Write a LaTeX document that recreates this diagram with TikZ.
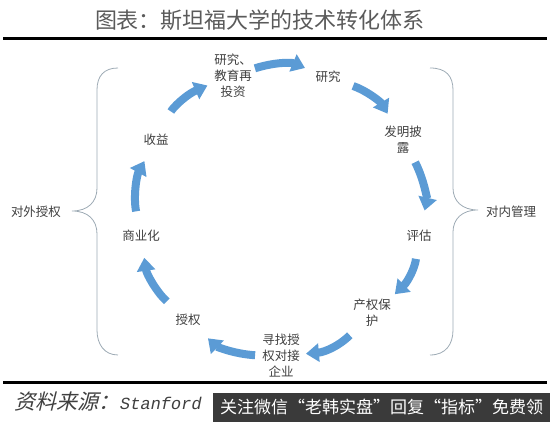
\documentclass[tikz,border=0pt]{standalone}
\usepackage{fontspec}
\usepackage{xcolor}
\usepackage{tikz}
\usetikzlibrary{arrows.meta}
\newfontfamily\cjk{Noto Sans CJK SC}
\newfontfamily\cjkslant[FakeSlant=0.25]{Noto Sans CJK SC}
\newfontfamily\srcmono[FakeSlant=0.2]{Liberation Mono}
\definecolor{flowblue}{HTML}{5B9BD5}
\definecolor{textgray}{HTML}{3F3F3F}
\definecolor{titlegray}{HTML}{5A5A5A}
\definecolor{bracegray}{HTML}{9DAAB4}
\definecolor{wmdark}{HTML}{3A3A3A}

\begin{document}
\begin{tikzpicture}[x=1pt, y=1pt,
  stage/.style={font=\cjk\fontsize{12.5}{16}\selectfont, text=textgray, align=center, inner sep=2pt},
  flow/.style={draw=flowblue, line width=8pt, -{Triangle[length=13pt, width=18pt]}, bend left=20},
  bracket/.style={draw=bracegray, line width=0.8pt},
  rule/.style={line width=3pt},
]
\useasboundingbox (0,0) rectangle (550,422);

% Title
\node[font=\cjk\fontsize{22}{24}\selectfont, text=titlegray] (title) at (260,402) {图表：斯坦福大学的技术转化体系};
\draw[rule] (3,383) -- (547,383);

% Stages round the circle
\node[stage] (reinv) at (233,346) {研究、\\教育再\\投资};
\node[stage] (res) at (328,345) {研究};
\node[stage] (disc) at (403,282) {发明披\\露};
\node[stage] (eval) at (419,186) {评估};
\node[stage] (prot) at (372,109) {产权保\\护};
\node[stage] (seek) at (281,66) {寻找授\\权对接\\企业};
\node[stage] (lic) at (188,102) {授权};
\node[stage] (comm) at (141,186) {商业化};
\node[stage] (rev) at (156,282) {收益};

% Cycle arrows
\draw[flow, shorten <=23pt, shorten >=5pt] (rev) to (reinv);
\draw[flow, shorten <=1pt, shorten >=9pt] (reinv) to (res);
\draw[flow, shorten <=11pt, shorten >=12pt] (res) to (disc);
\draw[flow, shorten <=7pt, shorten >=18pt] (disc) to (eval);
\draw[flow, shorten <=15pt, shorten >=4pt] (eval) to (prot);
\draw[flow, shorten <=9pt, shorten >=4pt] (prot) to (seek);
\draw[flow, shorten <=5pt, shorten >=15pt] (seek) to (lic);
\draw[flow, shorten <=16pt, shorten >=14pt] (lic) to (comm);
\draw[flow, shorten <=17pt, shorten >=15pt] (comm) to (rev);

% Side groups
\node[stage] (ext) at (36,210) {对外授权};
\node[stage] (int) at (511,210) {对内管理};
\draw[bracket] (118,354) .. controls (104,354) and (97,346) .. (97,332) -- (97,234)
  .. controls (97,220) and (88,211) .. (72,211) .. controls (88,211) and (97,202) .. (97,188)
  -- (97,92) .. controls (97,78) and (104,67) .. (118,67);
\draw[bracket] (430,354) .. controls (446,354) and (453,346) .. (453,332) -- (453,234)
  .. controls (453,221) and (462,212) .. (478,212) .. controls (462,212) and (453,203) .. (453,190)
  -- (453,92) .. controls (453,78) and (446,67) .. (430,67);

% Source line
\draw[rule] (3,39) -- (547,39);
\node[anchor=west, text=textgray, inner sep=0pt] (src) at (14,20)
  {{\cjkslant\fontsize{21}{24}\selectfont 资料来源：}{\srcmono\fontsize{17}{24}\selectfont Stanford}};
\node[anchor=south west, fill=wmdark, text=white, minimum width=337pt, minimum height=29pt,
  inner sep=0pt, font=\cjk\fontsize{17}{20}\selectfont] (wm) at (213,0) {关注微信“老韩实盘”回复“指标”免费领};
\end{tikzpicture}
\end{document}
